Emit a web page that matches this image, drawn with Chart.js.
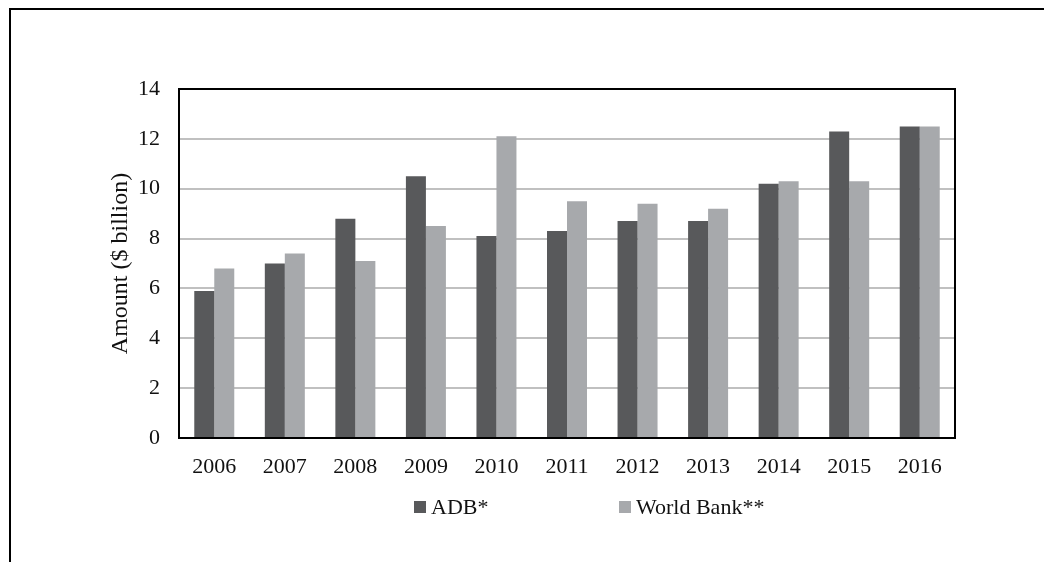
<!DOCTYPE html>
<html>
<head>
<meta charset="utf-8">
<script src="https://cdn.jsdelivr.net/npm/chart.js@4.4.1/dist/chart.umd.min.js"></script>
<style>
  html, body { margin: 0; padding: 0; background: #fff; }
  #frame {
    position: absolute; left: 9px; top: 8px; width: 1100px; height: 600px;
    border-top: 2px solid #000; border-left: 2px solid #000;
  }
  #chart { position: absolute; left: 0; top: 0; }
</style>
</head>
<body>
<div id="frame"></div>
<canvas id="chart" width="1044" height="562"></canvas>
<script>
const years = ['2006', '2007', '2008', '2009', '2010', '2011', '2012', '2013', '2014', '2015', '2016'];
const adb = [5.9, 7.0, 8.8, 10.5, 8.1, 8.3, 8.7, 8.7, 10.2, 12.3, 12.5];
const worldBank = [6.8, 7.4, 7.1, 8.5, 12.1, 9.5, 9.4, 9.2, 10.3, 10.3, 12.5];
const yTicks = [0, 2, 4, 6, 8, 10, 12, 14];

const serif = '"Liberation Serif", "Times New Roman", serif';

// plot box on all four sides + the legend drawn under the axis
const boxAndLegend = {
    id: 'boxAndLegend',
    afterDraw(chart) {
        const { ctx, chartArea: a } = chart;
        ctx.save();
        ctx.strokeStyle = '#000';
        ctx.lineWidth = 2;
        ctx.strokeRect(a.left, a.top, a.right - a.left, a.bottom - a.top);

        const legendX = [414, 619];
        const y = a.bottom + 69;
        ctx.font = '22px ' + serif;
        ctx.textBaseline = 'middle';
        ctx.textAlign = 'left';
        chart.data.datasets.forEach((ds, i) => {
            ctx.fillStyle = ds.backgroundColor;
            ctx.fillRect(legendX[i], y - 6, 12, 12);
            ctx.fillStyle = '#111';
            ctx.fillText(ds.label, legendX[i] + 17, y + 1);
        });
        ctx.restore();
    }
};

new Chart(document.getElementById('chart'), {
    type: 'bar',
    data: {
        labels: years,
        datasets: [
            { label: 'ADB*', data: adb, backgroundColor: '#58595b' },
            { label: 'World Bank**', data: worldBank, backgroundColor: '#a7a9ac' }
        ]
    },
    options: {
        responsive: false,
        animation: false,
        layout: { padding: { top: 89, right: 89, left: 0, bottom: 0 } },
        datasets: { bar: { categoryPercentage: 0.567, barPercentage: 1.0 } },
        plugins: {
            legend: { display: false },
            tooltip: { enabled: false }
        },
        scales: {
            x: {
                grid: { display: false },
                border: { display: true, color: '#000', width: 2 },
                ticks: { color: '#111', font: { family: serif, size: 22 }, padding: 8 },
                afterFit(scale) { scale.height = 124; }
            },
            y: {
                min: 0,
                max: 14,
                afterBuildTicks(scale) { scale.ticks = yTicks.map(v => ({ value: v })); },
                grid: { color: '#c0c0c0', lineWidth: 2, drawTicks: false },
                border: { display: true, color: '#000', width: 2 },
                ticks: { color: '#111', font: { family: serif, size: 22 }, padding: 19 },
                title: {
                    display: true,
                    text: 'Amount ($ billion)',
                    color: '#111',
                    font: { family: serif, size: 24 },
                    padding: { top: 106, bottom: 0 }
                },
                afterFit(scale) { scale.width = 179; }
            }
        }
    },
    plugins: [boxAndLegend]
});
</script>
</body>
</html>
